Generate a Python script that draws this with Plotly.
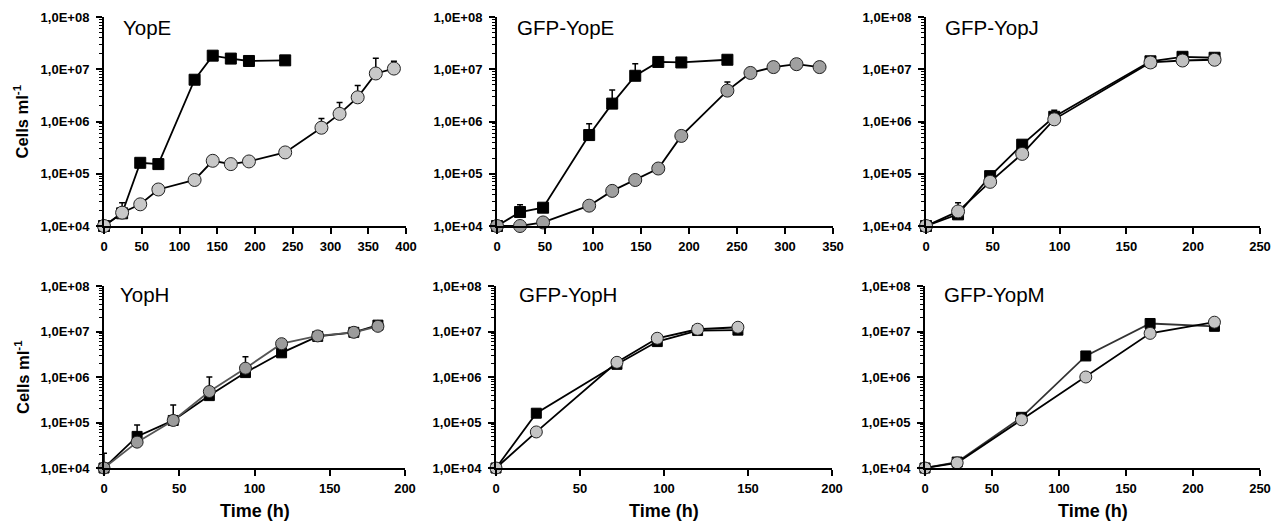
import plotly.graph_objects as go

# ---------------- data ----------------
titles = ["YopE", "GFP-YopE", "GFP-YopJ", "YopH", "GFP-YopH", "GFP-YopM"]
x_max = [400, 350, 250, 200, 200, 250]
x_dtick = [50, 50, 50, 50, 50, 50]

# YopE
yope_t_sq = [0, 24, 48, 72, 120, 144, 168, 192, 240]
yope_y_sq = [1e4, 1.75e4, 1.62e5, 1.53e5, 6.3e6, 1.82e7, 1.6e7, 1.44e7, 1.48e7]
yope_e_sq = [None, 1.05e4, None, None, None, None, None, None, None]
yope_t_ci = [0, 24, 48, 72, 120, 144, 168, 192, 240, 288, 312, 336, 360, 384]
yope_y_ci = [1e4, 1.8e4, 2.6e4, 5.0e4, 7.6e4, 1.77e5, 1.53e5, 1.72e5, 2.56e5,
             7.6e5, 1.4e6, 2.9e6, 8.3e6, 1.03e7]
yope_e_ci = [None, None, None, None, None, None, None, None, None,
             3.8e5, 0.9e6, 2.0e6, 7.9e6, 3.9e6]

# GFP-YopE
gyope_t_sq = [0, 24, 48, 96, 120, 144, 168, 192, 240]
gyope_y_sq = [1e4, 1.85e4, 2.24e4, 5.5e5, 2.2e6, 7.5e6, 1.38e7, 1.35e7, 1.52e7]
gyope_e_sq = [None, 0.7e4, None, 3.6e5, 1.8e6, 5.3e6, None, None, None]
gyope_t_ci = [0, 24, 48, 96, 120, 144, 168, 192, 240, 264, 288, 312, 336]
gyope_y_ci = [1e4, 1e4, 1.17e4, 2.45e4, 4.7e4, 7.6e4, 1.26e5, 5.3e5, 3.9e6,
              8.5e6, 1.1e7, 1.25e7, 1.1e7]
gyope_e_ci = [None, None, None, None, None, None, None, None, 1.8e6,
              None, None, None, None]

# GFP-YopJ
gyopj_t_sq = [0, 24, 48, 72, 96, 168, 192, 216]
gyopj_y_sq = [1e4, 1.67e4, 9.0e4, 3.6e5, 1.23e6, 1.42e7, 1.73e7, 1.66e7]
gyopj_e_sq = [None, None, None, None, 0.42e6, None, None, None]
gyopj_t_ci = [0, 24, 48, 72, 96, 168, 192, 216]
gyopj_y_ci = [1e4, 1.9e4, 7.0e4, 2.4e5, 1.1e6, 1.35e7, 1.47e7, 1.52e7]
gyopj_e_ci = [None, 0.9e4, None, None, None, None, None, None]

# YopH
yoph_t_sq = [0, 22, 46, 70, 94, 118, 142, 166, 182]
yoph_y_sq = [1e4, 4.95e4, 1.11e5, 3.9e5, 1.25e6, 3.4e6, 7.8e6, 9.6e6, 1.38e7]
yoph_e_sq = [1.1e4, 3.9e4, 1.3e5, 6.1e5, None, None, None, None, None]
yoph_t_ci = [0, 22, 46, 70, 94, 118, 142, 166, 182]
yoph_y_ci = [1e4, 3.7e4, 1.11e5, 4.8e5, 1.56e6, 5.4e6, 8.0e6, 9.6e6, 1.3e7]
yoph_e_ci = [None, None, None, None, 1.24e6, None, None, None, None]

# GFP-YopH
gyoph_t_sq = [0, 24, 72, 96, 120, 144]
gyoph_y_sq = [1e4, 1.6e5, 1.9e6, 6.0e6, 1.05e7, 1.07e7]
gyoph_t_ci = [0, 24, 72, 96, 120, 144]
gyoph_y_ci = [1e4, 6.2e4, 2.1e6, 7.1e6, 1.12e7, 1.24e7]

# GFP-YopM
gyopm_t_sq = [0, 24, 72, 120, 168, 216]
gyopm_y_sq = [1e4, 1.35e4, 1.3e5, 2.9e6, 1.5e7, 1.3e7]
gyopm_t_ci = [0, 24, 72, 120, 168, 216]
gyopm_y_ci = [1e4, 1.3e4, 1.15e5, 1.0e6, 9.1e6, 1.6e7]

y_tickvals = [1e4, 1e5, 1e6, 1e7, 1e8]
y_ticktext = ["1,0E+04", "1,0E+05", "1,0E+06", "1,0E+07", "1,0E+08"]

panels = [
    (yope_t_sq, yope_y_sq, yope_e_sq, yope_t_ci, yope_y_ci, yope_e_ci, "#c8c8c8", "#000000"),
    (gyope_t_sq, gyope_y_sq, gyope_e_sq, gyope_t_ci, gyope_y_ci, gyope_e_ci, "#a0a0a0", "#000000"),
    (gyopj_t_sq, gyopj_y_sq, gyopj_e_sq, gyopj_t_ci, gyopj_y_ci, gyopj_e_ci, "#c0c0c0", "#000000"),
    (yoph_t_sq, yoph_y_sq, yoph_e_sq, yoph_t_ci, yoph_y_ci, yoph_e_ci, "#9c9c9c", "#555555"),
    (gyoph_t_sq, gyoph_y_sq, None, gyoph_t_ci, gyoph_y_ci, None, "#c4c4c4", "#000000"),
    (gyopm_t_sq, gyopm_y_sq, None, gyopm_t_ci, gyopm_y_ci, None, "#c4c4c4", "#000000"),
]

# ---------------- layout geometry (pixels) ----------------
W, H = 1277, 523
x_px = [(104, 406), (497, 833), (926, 1260), (104, 405), (496, 832), (925, 1260)]
y_px = [(17, 226)] * 3 + [(286, 468)] * 3

FONT = "Liberation Sans"
minor_vals = [m * 10 ** e for e in range(4, 8) for m in range(2, 10)]

fig = go.Figure()


def err(arr):
    if arr is None:
        return None
    return dict(type="data", symmetric=False, array=arr,
                arrayminus=[0 if v is not None else None for v in arr],
                color="black", thickness=1.5, width=3, visible=True)


for i, (ts, ys, es, tc, yc, ec, ccol, clc) in enumerate(panels):
    ax = "" if i == 0 else str(i + 1)
    small = i >= 3
    msz = 11 if small else 12
    sq_line = "#333333" if i == 5 else "#000000"
    fig.add_trace(go.Scatter(
        x=ts, y=ys, mode="lines+markers", xaxis="x" + ax, yaxis="y" + ax,
        line=dict(color=sq_line, width=1.8),
        marker=dict(symbol="square", size=msz - 1, color="black",
                    line=dict(color="black", width=1)),
        error_y=err(es), cliponaxis=False, showlegend=False))
    fig.add_trace(go.Scatter(
        x=tc, y=yc, mode="lines+markers", xaxis="x" + ax, yaxis="y" + ax,
        line=dict(color=clc, width=1.8),
        marker=dict(symbol="circle", size=msz + 1, color=ccol,
                    line=dict(color="#222222", width=1)),
        error_y=err(ec), cliponaxis=False, showlegend=False))

    x0, x1 = x_px[i]
    y0, y1 = y_px[i]
    tickfont = dict(family=FONT, size=13, color="black", weight="bold")
    fig.layout["xaxis" + ax] = dict(
        domain=[x0 / W, x1 / W], anchor="y" + ax, range=[0, x_max[i]],
        tickmode="linear", tick0=0, dtick=x_dtick[i], automargin=False,
        ticks="outside", ticklen=6, tickwidth=1.5, tickcolor="black",
        showline=True, linecolor="black", linewidth=2, showgrid=False,
        zeroline=False, tickfont=tickfont, ticklabelstandoff=1)
    fig.layout["yaxis" + ax] = dict(
        domain=[1 - y1 / H, 1 - y0 / H], anchor="x" + ax, type="log",
        range=[4, 8], tickmode="array", tickvals=y_tickvals, ticktext=y_ticktext,
        automargin=False,
        ticks="outside", ticklen=6, tickwidth=1.5, tickcolor="black",
        minor=dict(ticks="outside", ticklen=3, tickwidth=1, tickcolor="black",
                   tickmode="array", tickvals=minor_vals, showgrid=False),
        showline=True, linecolor="black", linewidth=2, showgrid=False,
        zeroline=False, tickfont=tickfont, ticklabelstandoff=4)

annotations = []
title_pos = [(121, 28), (515, 28), (943, 28), (118, 294), (517, 294), (942, 294)]
for i, t in enumerate(titles):
    px, py = title_pos[i]
    annotations.append(dict(text=t, x=px / W, y=1 - py / H, xref="paper", yref="paper",
                            xanchor="left", yanchor="middle", showarrow=False,
                            font=dict(family=FONT, size=20.5, color="black")))
for yc in [(17 + 226) / 2, (286 + 468) / 2]:
    annotations.append(dict(text="Cells ml<sup>-1</sup>", x=22 / W, y=1 - yc / H,
                            xref="paper", yref="paper", textangle=-90,
                            xanchor="center", yanchor="middle", showarrow=False,
                            font=dict(family=FONT, size=16.5, color="black", weight="bold")))
for i in range(3, 6):
    x0, x1 = x_px[i]
    annotations.append(dict(text="Time (h)", x=(x0 + x1) / 2 / W, y=1 - 511 / H,
                            xref="paper", yref="paper", xanchor="center", yanchor="middle",
                            showarrow=False,
                            font=dict(family=FONT, size=18, color="black", weight="bold")))

fig.update_layout(width=W, height=H, margin=dict(l=0, r=0, t=0, b=0, pad=0),
                  paper_bgcolor="white", plot_bgcolor="white",
                  annotations=annotations, showlegend=False)

post = ("document.documentElement.style.margin='0px';"
        "document.documentElement.style.overflow='hidden';"
        "document.body.style.margin='0px';"
        "document.body.style.overflow='hidden';")
fig.write_html("out.html", post_script=post, config={"displayModeBar": False})
